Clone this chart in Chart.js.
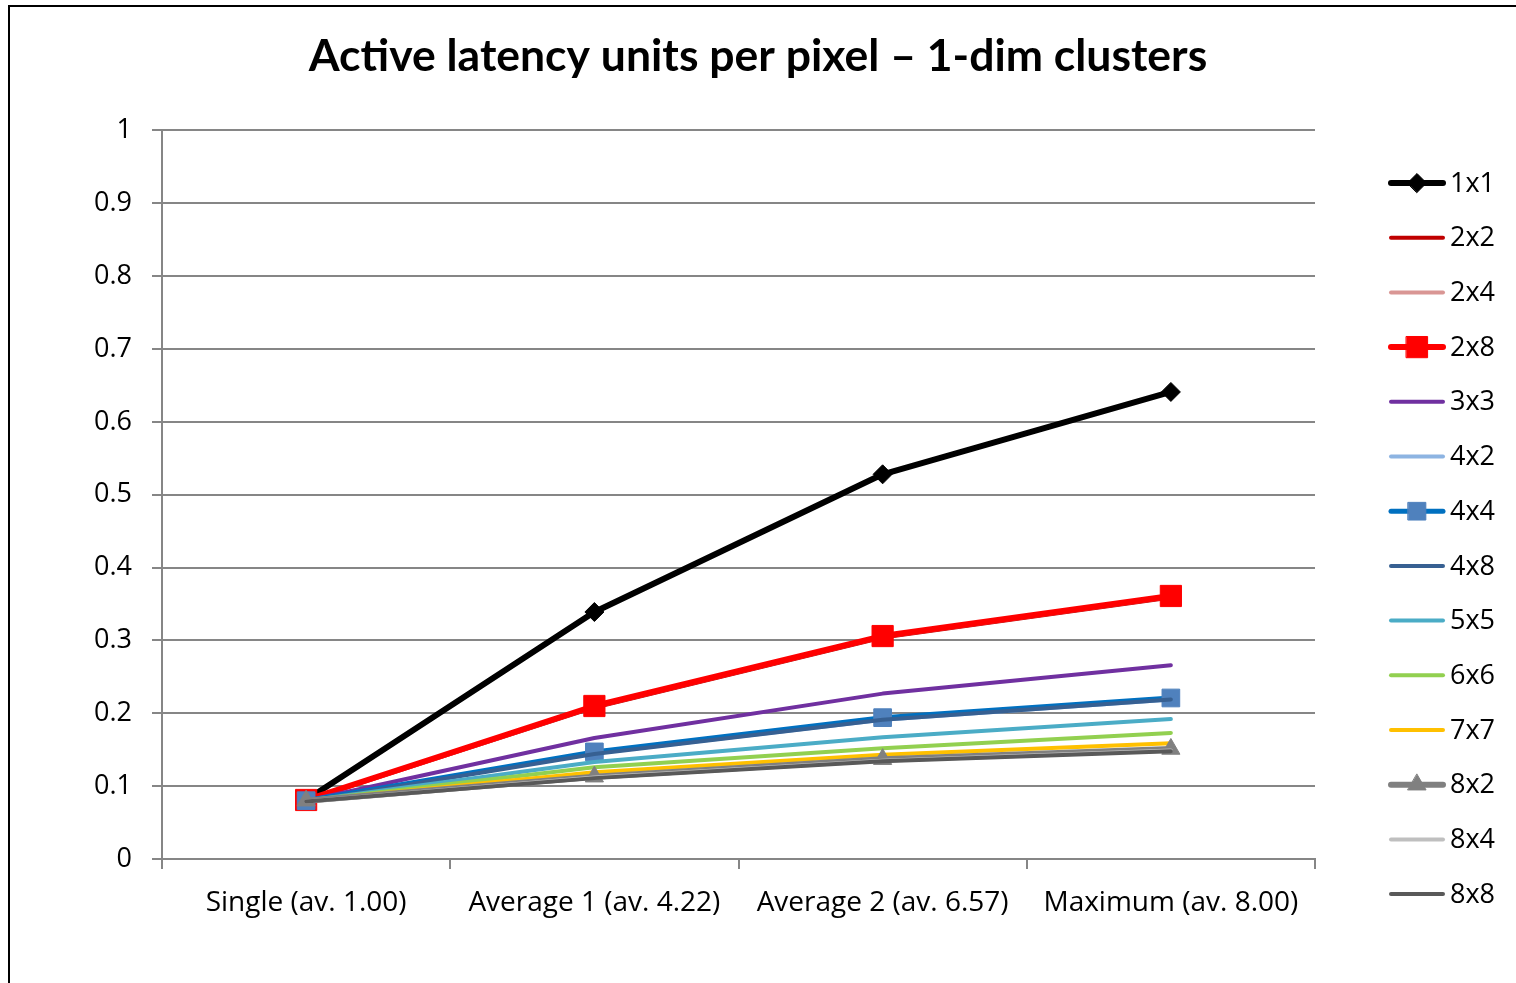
<!DOCTYPE html>
<html lang="en">

<head>
    <meta charset="UTF-8">
    <title>Active latency units per pixel</title>
    <script src="https://cdn.jsdelivr.net/npm/chart.js"></script>
    <style>
        html,
        body {
            margin: 0;
            padding: 0;
            background: #fff;
            overflow: hidden;
        }

        /* outer frame, only top and left edges are in view */
        #frame {
            position: absolute;
            left: 8px;
            top: 5px;
            width: 1600px;
            height: 1100px;
            border-top: 2px solid #000;
            border-left: 2px solid #000;
        }

        #chart-container {
            position: absolute;
            left: 0;
            top: 0;
            width: 1516px;
            height: 983px;
        }
    </style>
</head>

<body>
    <div id="frame"></div>
    <div id="chart-container">
        <canvas id="latency-chart"></canvas>
    </div>

    <script>
        // x categories
        const categories = ['Single (av. 1.00)', 'Average 1 (av. 4.22)', 'Average 2 (av. 6.57)', 'Maximum (av. 8.00)'];

        // cluster shapes
        const seriesNames = ['1x1', '2x2', '2x4', '2x8', '3x3', '4x2', '4x4', '4x8', '5x5', '6x6', '7x7', '8x2', '8x4', '8x8'];

        // active latency units per pixel, one array per cluster shape
        const v1x1 = [0.081, 0.339, 0.528, 0.641];
        const v2x2 = [0.080, 0.208, 0.304, 0.359];
        const v2x4 = [0.080, 0.209, 0.305, 0.360];
        const v2x8 = [0.081, 0.210, 0.306, 0.361];
        const v3x3 = [0.080, 0.166, 0.227, 0.266];
        const v4x2 = [0.080, 0.145, 0.191, 0.219];
        const v4x4 = [0.080, 0.147, 0.194, 0.221];
        const v4x8 = [0.079, 0.144, 0.191, 0.219];
        const v5x5 = [0.080, 0.133, 0.167, 0.192];
        const v6x6 = [0.080, 0.126, 0.152, 0.173];
        const v7x7 = [0.080, 0.119, 0.143, 0.159];
        const v8x2 = [0.080, 0.113, 0.137, 0.151];
        const v8x4 = [0.079, 0.112, 0.135, 0.149];
        const v8x8 = [0.079, 0.111, 0.134, 0.148];

        const yTicks = [0, 0.1, 0.2, 0.3, 0.4, 0.5, 0.6, 0.7, 0.8, 0.9, 1];

        const seriesValues = [v1x1, v2x2, v2x4, v2x8, v3x3, v4x2, v4x4, v4x8, v5x5, v6x6, v7x7, v8x2, v8x4, v8x8];

        // line colour, line width, marker (style, radius, fill)
        const styles = [
            { color: '#000000', width: 6, point: 'rectRot', radius: 9.5, fill: '#000000' },
            { color: '#C00000', width: 4 },
            { color: '#D99694', width: 4 },
            { color: '#FF0000', width: 6, point: 'rect', radius: 15, fill: '#FF0000' },
            { color: '#7030A0', width: 4 },
            { color: '#8DB4E2', width: 4 },
            { color: '#0070C0', width: 5, point: 'rect', radius: 12.5, fill: '#4F81BD' },
            { color: '#376092', width: 4 },
            { color: '#4BACC6', width: 4 },
            { color: '#92D050', width: 4 },
            { color: '#FFC000', width: 4 },
            { color: '#808080', width: 6, point: 'triangle', radius: 10.5, fill: '#808080' },
            { color: '#BFBFBF', width: 4 },
            { color: '#595959', width: 4 }
        ];

        const FONT = '"Open Sans", sans-serif';
        const TITLE_FONT = 'Lato, "Open Sans", sans-serif';
        const LEGEND_WIDTH = 201;

        const datasets = seriesNames.map((name, i) => {
            const s = styles[i];
            return {
                label: name,
                data: seriesValues[i],
                borderColor: s.color,
                backgroundColor: s.fill || s.color,
                borderWidth: s.width,
                borderCapStyle: 'round',
                borderJoinStyle: 'round',
                tension: 0,
                fill: false,
                pointStyle: s.point || 'circle',
                pointRadius: s.point ? s.radius : 0,
                pointHoverRadius: s.point ? s.radius : 0,
                pointBackgroundColor: s.fill || s.color,
                pointBorderColor: s.fill || s.color,
                pointBorderWidth: 1,
                // later series sit on top
                order: seriesNames.length - i
            };
        });

        // legend on the right: line sample with marker, then the name.
        // It takes its room as a layout box beside the plot, so the title
        // stays centred on the whole canvas.
        const sideLegend = {
            id: 'sideLegend',
            beforeInit(chart) {
                const box = {
                    position: 'right',
                    weight: 0,
                    fullSize: false,
                    options: {},
                    width: 0,
                    height: 0,
                    isHorizontal() { return false; },
                    update(maxWidth, maxHeight) {
                        this.width = LEGEND_WIDTH;
                        this.height = maxHeight;
                    },
                    draw() {}
                };
                Chart.layouts.addBox(chart, box);
            },
            afterDraw(chart, args, opts) {
                const ctx = chart.ctx;
                ctx.save();
                ctx.font = opts.fontSize + 'px ' + FONT;
                ctx.textBaseline = 'middle';
                ctx.textAlign = 'left';
                chart.data.datasets.forEach((ds, i) => {
                    const y = opts.top + i * opts.step;
                    ctx.beginPath();
                    ctx.strokeStyle = ds.borderColor;
                    ctx.lineWidth = ds.borderWidth;
                    ctx.lineCap = 'round';
                    ctx.moveTo(opts.x0, y);
                    ctx.lineTo(opts.x1, y);
                    ctx.stroke();
                    if (ds.pointRadius > 0) {
                        ctx.fillStyle = ds.pointBackgroundColor;
                        ctx.strokeStyle = ds.pointBorderColor;
                        ctx.lineWidth = ds.pointBorderWidth;
                        Chart.helpers.drawPoint(ctx, {
                            pointStyle: ds.pointStyle,
                            radius: ds.pointRadius,
                            rotation: 0,
                            borderWidth: ds.pointBorderWidth
                        }, (opts.x0 + opts.x1) / 2, y);
                    }
                    ctx.fillStyle = '#000';
                    ctx.fillText(ds.label, opts.x1 + 7, y + 1);
                });
                ctx.restore();
            }
        };

        const chart = new Chart(document.getElementById('latency-chart'), {
            type: 'line',
            data: { labels: categories, datasets: datasets },
            plugins: [sideLegend],
            options: {
                responsive: true,
                maintainAspectRatio: false,
                animation: false,
                layout: { padding: 0 },
                scales: {
                    x: {
                        offset: true,
                        grid: {
                            offset: true,
                            drawOnChartArea: false,
                            drawTicks: true,
                            tickLength: 10,
                            color: '#868686',
                            lineWidth: 2
                        },
                        border: { color: '#868686', width: 2 },
                        ticks: {
                            color: '#000',
                            font: { family: FONT, size: 28 },
                            padding: 17,
                            maxRotation: 0,
                            autoSkip: false
                        },
                        afterFit(scale) { scale.height = 124; }
                    },
                    y: {
                        min: 0,
                        max: 1,
                        afterBuildTicks(scale) {
                            scale.ticks = yTicks.map(v => ({ value: v }));
                        },
                        grid: {
                            color: '#868686',
                            lineWidth: 2,
                            tickLength: 10
                        },
                        border: { color: '#868686', width: 2 },
                        ticks: {
                            color: '#000',
                            font: { family: FONT, size: 27 },
                            padding: 20,
                            callback: v => String(Math.round(v * 10) / 10)
                        },
                        afterFit(scale) { scale.width = 162; }
                    }
                },
                plugins: {
                    title: {
                        display: true,
                        text: 'Active latency units per pixel \u2013 1-dim clusters',
                        color: '#000',
                        font: { family: TITLE_FONT, size: 44.5, weight: 'bold', lineHeight: 1.2 },
                        padding: { top: 30, bottom: 47 }
                    },
                    legend: { display: false },
                    tooltip: { enabled: false },
                    sideLegend: { top: 183, step: 54.7, x0: 1391, x1: 1443, fontSize: 27 }
                }
            }
        });
    </script>
</body>

</html>
